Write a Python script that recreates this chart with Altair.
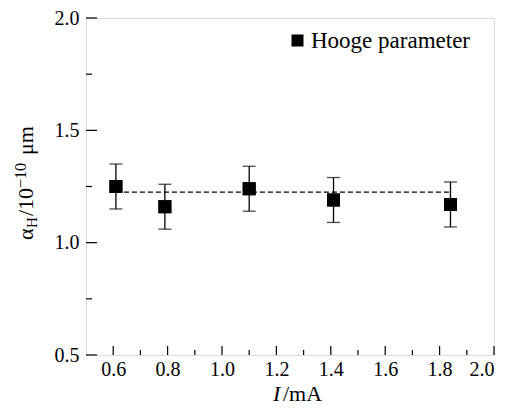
import altair as alt
import pandas as pd

# data
current = [0.61, 0.79, 1.10, 1.41, 1.84]
alpha_h = [1.25, 1.16, 1.24, 1.19, 1.17]
err = [0.10, 0.10, 0.10, 0.10, 0.10]
mean_level = 1.225
series_name = "Hooge parameter"

x_major = [0.6, 0.8, 1.0, 1.2, 1.4, 1.6, 1.8, 2.0]
x_minor = [0.7, 0.9, 1.1, 1.3, 1.5, 1.7, 1.9]
y_major = [0.5, 1.0, 1.5, 2.0]
y_minor = [0.75, 1.25, 1.75]

W, H = 408, 337
FONT = "'Liberation Serif', 'DejaVu Serif', serif"

df = pd.DataFrame({
    "I": current,
    "a": alpha_h,
    "lo": [v - e for v, e in zip(alpha_h, err)],
    "hi": [v + e for v, e in zip(alpha_h, err)],
    "s": [series_name] * len(current),
})
line_df = pd.DataFrame({"x1": [current[0]], "x2": [current[-1]], "y": [mean_level]})

xs = alt.Scale(domain=[0.5, 2.0], nice=False, zero=False)
ys = alt.Scale(domain=[0.5, 2.0], nice=False, zero=False)

points = alt.Chart(df).mark_square(size=169, opacity=1).encode(
    x=alt.X("I:Q", scale=xs, title=None,
            axis=alt.Axis(values=x_major, format=".1f", ticks=False, domain=False, grid=False,
                          labelFont=FONT, labelFontSize=20, labelColor="black", labelPadding=4)),
    y=alt.Y("a:Q", scale=ys, title=None,
            axis=alt.Axis(values=y_major, format=".1f", ticks=False, domain=False, grid=False,
                          labelFont=FONT, labelFontSize=20, labelColor="black", labelPadding=7)),
    fill=alt.Fill("s:N", scale=alt.Scale(range=["black"]),
                  legend=alt.Legend(title=None, orient="none", legendX=200, legendY=11,
                                    symbolType="square", symbolSize=144, symbolStrokeWidth=0,
                                    labelFont=FONT, labelFontSize=23, labelColor="black",
                                    labelOffset=2)),
)

bars = alt.Chart(df).mark_rule(color="black", strokeWidth=1.3).encode(
    x=alt.X("I:Q", scale=xs, title=None),
    y=alt.Y("lo:Q", scale=ys, title=None),
    y2="hi:Q",
)
cap_lo = alt.Chart(df).mark_tick(color="black", orient="horizontal", size=13, thickness=1.3).encode(
    x=alt.X("I:Q", scale=xs, title=None), y=alt.Y("lo:Q", scale=ys, title=None))
cap_hi = alt.Chart(df).mark_tick(color="black", orient="horizontal", size=13, thickness=1.3).encode(
    x=alt.X("I:Q", scale=xs, title=None), y=alt.Y("hi:Q", scale=ys, title=None))

dashed = alt.Chart(line_df).mark_rule(color="black", strokeWidth=1.2, strokeDash=[5, 3]).encode(
    x=alt.X("x1:Q", scale=xs, title=None), x2="x2:Q",
    y=alt.Y("y:Q", scale=ys, title=None),
)

def xticks(vals, length):
    return alt.Chart(pd.DataFrame({"v": vals})).mark_rule(color="black", strokeWidth=1.2).encode(
        x=alt.X("v:Q", scale=xs, title=None), y=alt.value(H), y2=alt.value(H - length))

def yticks(vals, length):
    return alt.Chart(pd.DataFrame({"v": vals})).mark_rule(color="black", strokeWidth=1.2).encode(
        y=alt.Y("v:Q", scale=ys, title=None), x=alt.value(0), x2=alt.value(length))

one = pd.DataFrame({"t": [0]})

def label(text, x, y, size=20, angle=0, italic=False):
    kw = dict(text=text, font=FONT, fontSize=size, color="black", align="left",
              baseline="alphabetic")
    if angle:
        kw["angle"] = angle
    if italic:
        kw["fontStyle"] = "italic"
    return alt.Chart(one).mark_text(**kw).encode(x=alt.value(x), y=alt.value(y))

# y title pieces (rotated), plot-area pixel coordinates
ox, oy = 86, 18
ytitle = [
    label("α", 33 - ox, 240 - oy, 22, 270),
    label("H", 37 - ox, 228 - oy, 15, 270),
    label("/10", 33 - ox, 216 - oy, 22, 270),
    label("−10", 26 - ox, 188 - oy, 16, 270),
    label("μm", 33 - ox, 155 - oy, 22, 270),
]
xtitle = [
    label("I", 273 - ox, 401 - oy, 22, 0, True),
    label("/mA", 283 - ox, 401 - oy, 22),
]

chart = alt.layer(
    points, dashed, bars, cap_lo, cap_hi, points,
    xticks(x_major, 9), xticks(x_minor, 5), yticks(y_major, 11), yticks(y_minor, 6),
    *ytitle, *xtitle,
).properties(
    width=W, height=H,
    autosize=alt.AutoSizeParams(type="none"),
    padding={"left": 78, "top": 10, "right": 17, "bottom": 50},
).configure_view(
    stroke="black", strokeWidth=1.2
).configure(background="white")

chart.save("out.html", embed_options={"renderer": "svg", "actions": False})
